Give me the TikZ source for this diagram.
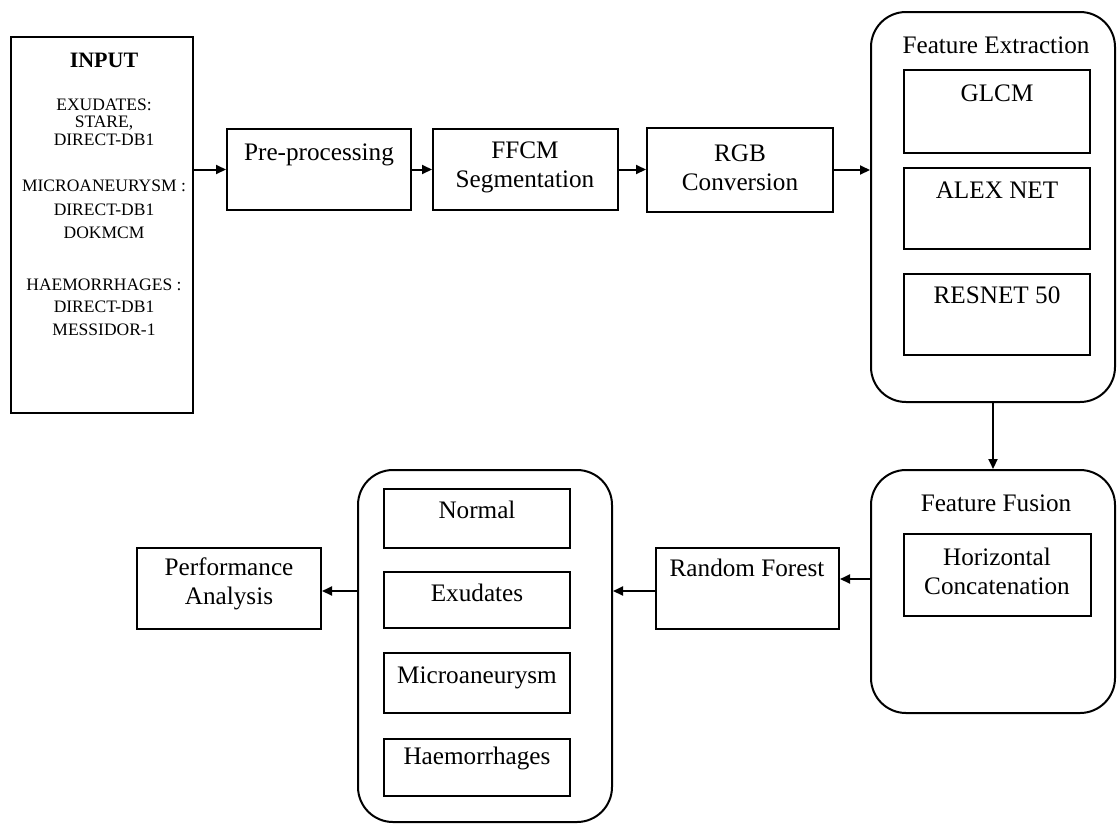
\documentclass[tikz,border=0pt]{standalone}
\usepackage{fontspec}
\setmainfont{Liberation Serif}
\usetikzlibrary{arrows.meta,fit}
\begin{document}
\begin{tikzpicture}[x=0.5pt,y=-0.5pt,
  box/.style={draw, line width=1pt, rectangle, inner sep=0pt},
  rbox/.style={box, rounded corners=17.5pt},
  lbl/.style={font=\fontsize{12.6}{14.5}\selectfont, align=center, inner sep=0pt},
  small/.style={font=\fontsize{8.75}{10}\selectfont, inner sep=0pt},
  arr/.style={-{Triangle[length=5pt,width=4.5pt]}, line width=1pt}]
\useasboundingbox (0,0) rectangle (1118,825);

% input
\node[box, fit={(11,37) (193,413)}] (input) {};
\node[inner sep=0pt, font=\fontsize{11}{13}\selectfont\bfseries] (inputt) at (104,60) {INPUT};
\node[small] (i1) at (104,105) {EXUDATES:};
\node[small] (i2) at (104,123) {STARE,};
\node[small] (i3) at (104,140) {DIRECT-DB1};
\node[small] (i4) at (104,186) {MICROANEURYSM :};
\node[small] (i5) at (104,210) {DIRECT-DB1};
\node[small] (i6) at (104,233) {DOKMCM};
\node[small] (i7) at (104,285) {HAEMORRHAGES :};
\node[small] (i8) at (104,307) {DIRECT-DB1};
\node[small] (i9) at (104,330) {MESSIDOR-1};

% top row
\node[box, fit={(227,129) (411,210)}] (pre) {};
\node[lbl] (pret) at (319,155) {Pre-processing};
\node[box, fit={(433,129) (618,210)}] (ffcm) {};
\node[lbl] (ffcmt) at (525,167.5) {FFCM\\Segmentation};
\node[box, fit={(647,128) (833,212)}] (rgb) {};
\node[lbl] (rgbt) at (740,167.5) {RGB\\Conversion};

% feature extraction
\node[rbox, fit={(871,12) (1115,402)}] (fe) {};
\node[lbl] (fet) at (996,45) {Feature Extraction};
\node[box, fit={(904,70) (1090,153)}] (glcm) {};
\node[lbl] (glcmt) at (997,93) {GLCM};
\node[box, fit={(904,168) (1090,249)}] (alex) {};
\node[lbl] (alext) at (997,190) {ALEX NET};
\node[box, fit={(904,274) (1090,355)}] (res) {};
\node[lbl] (rest) at (997,295) {RESNET 50};

% feature fusion
\node[rbox, fit={(871,470) (1115,713)}] (ff) {};
\node[lbl] (fft) at (996,503) {Feature Fusion};
\node[box, fit={(904,534) (1091,616)}] (hc) {};
\node[lbl] (hct) at (997,571.5) {Horizontal\\Concatenation};

% random forest
\node[box, fit={(656,548) (839,629)}] (rf) {};
\node[lbl] (rft) at (747,568) {Random Forest};

% classes
\node[rbox, fit={(358,470) (612,822)}] (cls) {};
\node[box, fit={(384,489) (570,548)}] (normal) {};
\node[lbl] (normalt) at (477,510) {Normal};
\node[box, fit={(384,572) (570,628)}] (exud) {};
\node[lbl] (exudt) at (477,593) {Exudates};
\node[box, fit={(384,653) (570,713)}] (micro) {};
\node[lbl] (microt) at (477,678) {Microaneurysm};
\node[box, fit={(384,739) (570,796)}] (haem) {};
\node[lbl] (haemt) at (477,758) {Haemorrhages};

% performance
\node[box, fit={(137,548) (321,629)}] (perf) {};
\node[lbl] (perft) at (229,584) {Performance\\Analysis};

% connectors
\draw[arr] (input.east |- pre.west) -- (pre.west);
\draw[arr] (pre.east) -- (ffcm.west);
\draw[arr] (ffcm.east) -- (ffcm.east -| rgb.west);
\draw[arr] (rgb.east) -- (rgb.east -| fe.west);
\draw[arr] (fe.south) -- (ff.north);
\path ([yshift=4.75pt]rf.east) coordinate (rfin);
\draw[arr] (rfin -| ff.west) -- (rfin);
\path ([yshift=-1.25pt]rf.west) coordinate (rfout);
\draw[arr] (rfout) -- (rfout -| cls.east);
\path ([yshift=-1.25pt]perf.east) coordinate (pfin);
\draw[arr] (pfin -| cls.west) -- (pfin);
\end{tikzpicture}
\end{document}
